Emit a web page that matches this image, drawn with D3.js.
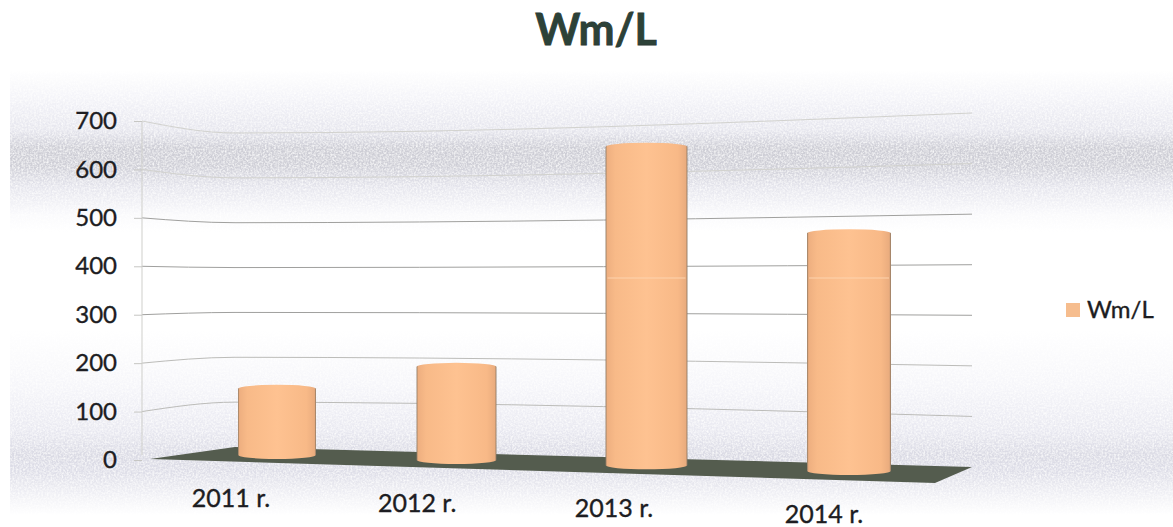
<!DOCTYPE html>
<html>
<head>
<meta charset="utf-8">
<script src="https://cdn.jsdelivr.net/npm/d3@7"></script>
<style>
  html, body { margin: 0; padding: 0; background: #fff; overflow: hidden; }
  text { font-family: Lato, "Open Sans", sans-serif; fill: #1d1d22; stroke: #1d1d22; stroke-width: 0.35px; }
</style>
</head>
<body>
<svg id="chart" width="1173" height="527"></svg>
<script>
var title = 'Wm/L';
var categories = ['2011 r.', '2012 r.', '2013 r.', '2014 r.'];
var values = [153, 205, 650, 480];
var yTicks = [0, 100, 200, 300, 400, 500, 600, 700];

var svg = d3.select('#chart'),
    defs = svg.append('defs');

// backdrop: scanned grey bands
var bandStops = [
  [70, '#ffffff'], [100, '#f3f3f8'], [130, '#e6e6ee'], [148, '#cdcdd5'], [166, '#cfcfd7'],
  [188, '#e6e6ee'], [215, '#fafafc'], [232, '#ffffff'], [330, '#ffffff'], [385, '#f6f6fa'],
  [430, '#e9e9f1'], [455, '#dadae4'], [472, '#dedee8'], [498, '#f3f3f7'], [515, '#ffffff']
];
var band = defs.append('linearGradient')
  .attr('id', 'band')
  .attr('gradientUnits', 'userSpaceOnUse')
  .attr('x1', 0).attr('x2', 0).attr('y1', 70).attr('y2', 515);
band.selectAll('stop').data(bandStops).enter().append('stop')
  .attr('offset', function(d){ return (d[0] - 70) / (515 - 70); })
  .attr('stop-color', function(d){ return d[1]; });

var grain = defs.append('filter').attr('id', 'grain')
  .attr('filterUnits', 'userSpaceOnUse')
  .attr('x', 0).attr('y', 0).attr('width', 1173).attr('height', 527);
grain.append('feTurbulence')
  .attr('type', 'fractalNoise').attr('baseFrequency', 0.55).attr('numOctaves', 2).attr('seed', 4);
grain.append('feColorMatrix')
  .attr('values', '0 0 0 0 1  0 0 0 0 1  0 0 0 0 1  0 0 0 1.6 -0.55')
  .attr('result', 'speck');
grain.append('feComposite')
  .attr('in', 'speck').attr('in2', 'SourceGraphic').attr('operator', 'in')
  .attr('result', 'lit');
grain.append('feMerge').selectAll('feMergeNode')
  .data(['SourceGraphic', 'lit']).enter().append('feMergeNode')
  .attr('in', function(d){ return d; });

svg.append('rect')
  .attr('x', 10).attr('y', 70).attr('width', 1163).attr('height', 445)
  .attr('fill', 'url(#band)')
  .attr('filter', 'url(#grain)');

// the chart's three wall edges each have their own value scale
var wallLeft = d3.scaleLinear().domain([0, 700]).range([460, 121]),
    wallCorner = d3.scaleLinear().domain([0, 700]).range([447, 133]),
    wallRight = d3.scaleLinear().domain([0, 700]).range([467, 113]);

var gridLine = d3.line()
  .x(function(d){ return d[0]; })
  .y(function(d){ return d[1]; })
  .curve(d3.curveMonotoneX);

svg.append('g').selectAll('.grid')
  .data(yTicks.filter(function(d){ return d > 0; }))
  .enter().append('path')
  .attr('class', 'grid')
  .attr('fill', 'none')
  .attr('stroke', function(d){
    if(d >= 600) return '#d2d2ce';
    return (d >= 300 && d <= 500) ? '#a0a09e' : '#bcbcb9';
  })
  .attr('stroke-width', 1)
  .attr('d', function(d){
    return gridLine([[142, wallLeft(d)], [235, wallCorner(d)], [972, wallRight(d)]]);
  });

var yAxis = d3.axisLeft(wallLeft)
  .tickValues(yTicks)
  .tickSize(8)
  .tickPadding(17)
  .tickFormat(d3.format('d'));

var axisG = svg.append('g')
  .attr('transform', 'translate(142,0)')
  .call(yAxis);
axisG.select('.domain').attr('stroke', '#cfcfcb').attr('d', 'M0,' + wallLeft(700) + 'V' + (wallLeft(0) - 5));
axisG.selectAll('.tick line').attr('stroke', '#c6c6c3');
axisG.selectAll('.tick text')
  .attr('font-size', 24)
  .attr('fill', '#1d1d22')
  .style('font-family', 'Lato, "Open Sans", sans-serif');

// floor
var floorPts = [
  [150, wallLeft(0) - 1],
  [235, wallCorner(0)],
  [972, wallRight(0)],
  [935, 483]
];
svg.append('path')
  .attr('d', d3.line()(floorPts) + 'Z')
  .attr('fill', '#545c4e');

// depth: columns drift right, down and grow
var centre = d3.scaleLinear().domain([0, 1, 2, 3]).range([277, 456.5, 646.5, 849]);
var span = [277, 849];
var baseOf = d3.scaleLinear().domain(span).range([459, 475]),
    unitOf = d3.scaleLinear().domain(span).range([0.485, 0.512]),
    widthOf = d3.scaleLinear().domain(span).range([78, 84]),
    labelX = d3.scaleLinear().domain(span).range([231, 824]),
    labelY = d3.scaleLinear().domain(span).range([507, 523]);

var peach = defs.append('linearGradient').attr('id', 'peach');
peach.selectAll('stop')
  .data([[0, '#8f7a64'], [0.02, '#eeaf80'], [0.12, '#f8ba88'], [0.5, '#fec291'], [0.88, '#f8b987'], [0.98, '#eaac7e'], [1, '#8a7662']])
  .enter().append('stop')
  .attr('offset', function(d){ return d[0]; })
  .attr('stop-color', function(d){ return d[1]; });

function columnPath(x, w, top, base){
  var r = w / 2, ry = 4;
  return 'M' + (x - r) + ',' + (top + ry) +
    'A' + r + ',' + ry + ' 0 0 1 ' + (x + r) + ',' + (top + ry) +
    'V' + (base - ry) +
    'A' + r + ',' + ry + ' 0 0 1 ' + (x - r) + ',' + (base - ry) + 'Z';
}

var columns = svg.append('g').selectAll('.column')
  .data(values)
  .enter().append('g')
  .attr('class', 'column');

columns.append('path')
  .attr('fill', 'url(#peach)')
  .attr('d', function(d, i){
    var x = centre(i),
        base = baseOf(x),
        top = base - d * unitOf(x);
    return columnPath(x, widthOf(x), top, base);
  });

// pale scan crease that crosses the tall columns
columns.filter(function(d){ return d >= 400; })
  .append('line')
  .attr('x1', function(d){ var x = centre(values.indexOf(d)); return x - widthOf(x) / 2 + 2; })
  .attr('x2', function(d){ var x = centre(values.indexOf(d)); return x + widthOf(x) / 2 - 2; })
  .attr('y1', 278).attr('y2', 278)
  .attr('stroke', '#fdd3ae').attr('stroke-width', 1);

svg.append('g').selectAll('.cat')
  .data(categories)
  .enter().append('text')
  .attr('class', 'cat')
  .attr('text-anchor', 'middle')
  .attr('font-size', 25)
  .attr('x', function(d, i){ return labelX(centre(i)); })
  .attr('y', function(d, i){ return labelY(centre(i)); })
  .text(function(d){ return d; });

// title
svg.append('text')
  .attr('x', 596).attr('y', 45)
  .attr('text-anchor', 'middle')
  .attr('font-size', 43)
  .attr('font-weight', 700)
  .style('fill', '#2c4238')
  .style('stroke', '#2c3a34').style('stroke-width', '0.8px')
  .text(title);

// legend
var legend = svg.append('g').attr('transform', 'translate(1066,303)');
legend.append('rect')
  .attr('width', 14).attr('height', 14)
  .attr('fill', '#f6bd8e');
legend.append('text')
  .attr('x', 21).attr('y', 15)
  .attr('font-size', 24)
  .text(title);
</script>
</body>
</html>
